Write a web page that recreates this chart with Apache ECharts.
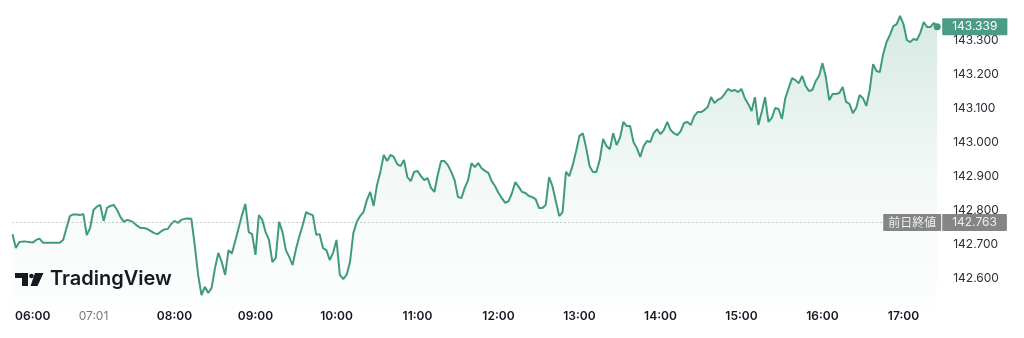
<!DOCTYPE html>
<html>
<head>
<meta charset="utf-8">
<script src="https://cdn.jsdelivr.net/npm/echarts@6/dist/echarts.min.js"></script>
<style>
  html, body { margin: 0; padding: 0; background: #ffffff; }
  #chart { width: 1024px; height: 338px; }
</style>
</head>
<body>
<div id="chart"></div>
<script>
// ---- Data ----
// bars before the 07:01 session open (sparse, irregular)
const preTimes = [
  "05:45","05:47","05:50","05:52","05:55","05:57","06:00","06:05","06:10","06:15","06:20","06:25",
  "06:30","06:33","06:36","06:39","06:42","06:45","06:48","06:51","06:54","06:56","06:58","06:59"
];
const sessionOpen = "07:01";
const sessionStepMin = 2.5;      // bar spacing after the open
const sessionEnd = "17:25";
const prices = [
  142.729,142.688,142.706,142.707,142.707,142.706,142.704,142.712,142.716,142.704,142.704,142.704,
  142.704,142.704,142.704,142.712,142.747,142.782,142.787,142.787,142.785,142.788,142.726,142.747,
  142.800,142.810,142.815,142.768,142.806,142.812,142.815,142.800,142.779,142.765,142.771,142.768,
  142.762,142.753,142.747,142.747,142.744,142.738,142.732,142.729,142.737,142.743,142.744,142.759,
  142.768,142.762,142.771,142.774,142.775,142.774,142.697,142.609,142.550,142.574,142.556,142.571,
  142.629,142.674,142.647,142.609,142.682,142.672,142.709,142.747,142.785,142.818,142.735,142.729,
  142.668,142.785,142.771,142.735,142.712,142.647,142.659,142.765,142.735,142.682,142.662,142.638,
  142.685,142.723,142.756,142.794,142.788,142.785,142.727,142.729,142.688,142.682,142.653,142.674,
  142.712,142.609,142.597,142.609,142.647,142.732,142.765,142.782,142.794,142.829,142.853,142.812,
  142.873,142.912,142.962,142.944,142.962,142.956,142.935,142.929,142.947,142.897,142.885,142.912,
  142.915,142.900,142.888,142.894,142.865,142.853,142.903,142.944,142.944,142.932,142.912,142.888,
  142.838,142.835,142.865,142.888,142.938,142.926,142.938,142.923,142.915,142.909,142.885,142.870,
  142.850,142.835,142.821,142.826,142.850,142.882,142.868,142.853,142.850,142.841,142.838,142.832,
  142.806,142.806,142.815,142.897,142.870,142.826,142.782,142.794,142.912,142.900,142.932,142.973,
  143.018,143.026,142.982,142.929,142.912,142.912,142.947,143.009,142.988,142.979,143.026,142.991,
  143.012,143.059,143.047,143.047,143.000,142.982,142.956,142.988,143.003,143.000,143.026,143.038,
  143.023,143.035,143.059,143.035,143.026,143.020,143.032,143.056,143.059,143.050,143.076,143.088,
  143.088,143.094,143.103,143.132,143.115,143.124,143.129,143.141,143.156,143.150,143.153,143.147,
  143.156,143.129,143.112,143.091,143.132,143.050,143.088,143.132,143.059,143.071,143.100,143.097,
  143.068,143.129,143.159,143.188,143.182,143.173,143.194,143.165,143.150,143.153,143.179,143.194,
  143.232,143.191,143.123,143.141,143.141,143.144,143.162,143.118,143.112,143.085,143.100,143.138,
  143.129,143.106,143.153,143.229,143.209,143.206,143.259,143.294,143.315,143.341,143.347,143.371,
  143.347,143.300,143.294,143.303,143.300,143.321,143.353,143.338,143.338,143.350,143.339
];
const shownTimeLabels = ["06:00","07:01","08:00","09:00","10:00","11:00","12:00","13:00","14:00","15:00","16:00","17:00"];
const mutedTimeLabels = ["07:01"];
const prevClose = 142.763;
const prevCloseLabel = "前日終値";
const brandName = "TradingView";
const yMin = 142.5, yMax = 143.4, yStep = 0.1;

// category labels: pre-open bars, the open bar, then regular bars up to the last one
function fmt(totalSec) {
  const h = Math.floor(totalSec / 3600), m = Math.floor((totalSec % 3600) / 60), s = totalSec % 60;
  const p = n => String(n).padStart(2, '0');
  return p(h) + ':' + p(m) + (s ? ':' + p(s) : '');
}
const times = preTimes.slice();
times.push(sessionOpen);
{
  const endSec = (+sessionEnd.slice(0, 2)) * 3600 + (+sessionEnd.slice(3, 5)) * 60;
  let t = 7 * 3600 + sessionStepMin * 60;
  while (t <= endSec) { times.push(fmt(t)); t += sessionStepMin * 60; }
}

// ---- Chart ----
const GREEN = '#3f9a80';
const chart = echarts.init(document.getElementById('chart'), null, { renderer: 'canvas' });
const lastPrice = prices[prices.length - 1];
const FONT = 'Inter, Roboto, sans-serif';
const CLEAR = 'rgba(0,0,0,0)';

chart.setOption({
  animation: false,
  backgroundColor: '#ffffff',
  grid: { left: 12.5, right: 86.8, top: 6, bottom: 26, containLabel: false, outerBoundsMode: 'none' },
  xAxis: {
    type: 'category',
    data: times,
    boundaryGap: false,
    axisLine: { show: false },
    axisTick: { show: false },
    splitLine: { show: false },
    axisLabel: {
      interval: (idx, val) => shownTimeLabels.includes(val),
      margin: 4,
      verticalAlign: 'middle',
      formatter: v => mutedTimeLabels.includes(v) ? '{m|' + v + '}' : '{b|' + v + '}',
      rich: {
        b: { fontFamily: FONT, fontSize: 12, fontWeight: 600, color: '#131722' },
        m: { fontFamily: FONT, fontSize: 12, fontWeight: 400, color: '#787b86' }
      }
    }
  },
  yAxis: {
    type: 'value',
    position: 'right',
    min: yMin, max: yMax, interval: yStep,
    axisLine: { show: false },
    axisTick: { show: false },
    splitLine: { show: false },
    axisLabel: {
      showMinLabel: false, showMaxLabel: false,
      margin: 16,
      fontFamily: FONT, fontSize: 12, color: '#2a2e39',
      formatter: v => v.toFixed(3)
    }
  },
  series: [{
    type: 'line',
    data: prices,
    showSymbol: false,
    clip: false,
    lineStyle: { color: GREEN, width: 2 },
    itemStyle: { color: GREEN },
    areaStyle: {
      color: new echarts.graphic.LinearGradient(0, 0, 0, 1, [
        { offset: 0, color: 'rgba(63,154,128,0.30)' },
        { offset: 0.55, color: 'rgba(63,154,128,0.09)' },
        { offset: 1, color: 'rgba(63,154,128,0.01)' }
      ])
    },
    markPoint: {
      silent: true,
      symbol: 'circle',
      symbolSize: 7,
      itemStyle: { color: GREEN },
      label: { show: false },
      data: [{ coord: [times[times.length - 1], lastPrice] }]
    },
    markLine: {
      silent: true,
      symbol: 'none',
      precision: 3,
      data: [
        {
          yAxis: prevClose,
          lineStyle: { color: '#9a9ca3', width: 1, type: [1, 3] },
          label: {
            position: 'insideEnd', distance: -4,
            formatter: prevCloseLabel,
            backgroundColor: '#858585', color: '#eeeeee',
            fontFamily: '"Noto Sans CJK JP", sans-serif', fontSize: 12,
            padding: [2, 5], lineHeight: 13, borderRadius: 1
          }
        },
        {
          yAxis: prevClose,
          lineStyle: { color: CLEAR, width: 0 },
          label: {
            position: 'end', distance: 5,
            formatter: p => Number(p.value).toFixed(3),
            backgroundColor: '#858585', color: '#eeeeee',
            fontFamily: FONT, fontSize: 12,
            padding: [2, 10], lineHeight: 13, borderRadius: 1
          }
        },
        {
          yAxis: lastPrice,
          lineStyle: { color: CLEAR, width: 0 },
          label: {
            position: 'end', distance: 5,
            formatter: p => Number(p.value).toFixed(3),
            backgroundColor: '#4b9c86', color: '#ffffff',
            fontFamily: FONT, fontSize: 12,
            padding: [2, 10], lineHeight: 13, borderRadius: 1
          }
        }
      ]
    }
  }],
  graphic: [
    { type: 'rect', shape: { x: 15, y: 273, width: 13, height: 5 }, style: { fill: '#131722' } },
    { type: 'rect', shape: { x: 22, y: 273, width: 6, height: 13 }, style: { fill: '#131722' } },
    { type: 'circle', shape: { cx: 31.5, cy: 276, r: 2.3 }, style: { fill: '#131722' } },
    { type: 'polygon', shape: { points: [[35, 273], [43.5, 273], [37.5, 286], [30.5, 286]] }, style: { fill: '#131722' } },
    { type: 'text', left: 50, top: 269, style: { text: brandName, font: '600 20px Inter, sans-serif', fill: '#131722' } }
  ]
});
</script>
</body>
</html>
